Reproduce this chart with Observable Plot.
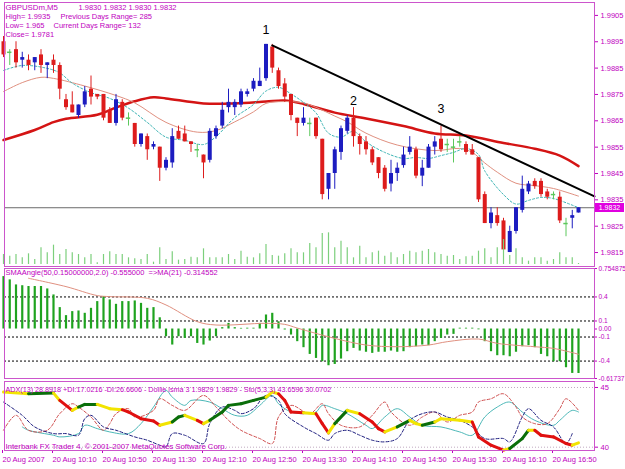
<!DOCTYPE html>
<html><head><meta charset="utf-8">
<script src="https://cdn.jsdelivr.net/npm/d3@7"></script>
<script src="https://cdn.jsdelivr.net/npm/@observablehq/plot@0.6"></script>
<style>
body{margin:0;background:#fff;}
#chart{position:relative;width:625px;height:469px;overflow:hidden;background:#fff;}
#chart svg{position:absolute;left:0;overflow:visible;}
#pricebox{position:absolute;left:595px;width:29px;height:9px;background:#e000e0;color:#fff;font:7px 'Liberation Sans',Arial,sans-serif;line-height:9px;text-align:center;}
</style></head><body><div id="chart"></div>
<script>
// ---------- DATA ----------
const candleOpen  = [1.9895,1.9891,1.9892,1.9888,1.9888,1.9887,1.9890,1.9886,1.9888,1.9886,1.9873,1.9871,1.9867,1.9871,1.9877,1.9875,1.9875,1.9869,1.9864,1.9872,1.9866,1.9864,1.9856,1.9859,1.9855,1.9855,1.9847,1.9849,1.9861,1.9860,1.9857,1.9854,1.9852,1.9850,1.9859,1.9863,1.9870,1.9870,1.9871,1.9875,1.9877,1.9878,1.9881,1.9893,1.9884,1.9879,1.9875,1.9866,1.9864,1.9864,1.9866,1.9858,1.9839,1.9845,1.9853,1.9861,1.9866,1.9859,1.9857,1.9854,1.9851,1.9847,1.9841,1.9845,1.9848,1.9853,1.9854,1.9844,1.9847,1.9855,1.9858,1.9856,1.9855,1.9857,1.9856,1.9854,1.9851,1.9837,1.9826,1.9829,1.9827,1.9815,1.9823,1.9831,1.9838,1.9842,1.9842,1.9838,1.9837,1.9836,1.9826,1.9828,1.9830];
const candleHigh  = [1.9897,1.9892,1.9895,1.9891,1.9890,1.9889,1.9892,1.9887,1.9890,1.9887,1.9875,1.9876,1.9871,1.9878,1.9882,1.9875,1.9875,1.9870,1.9875,1.9873,1.9868,1.9864,1.9860,1.9860,1.9857,1.9855,1.9851,1.9862,1.9863,1.9863,1.9857,1.9856,1.9852,1.9862,1.9863,1.9872,1.9877,1.9873,1.9877,1.9877,1.9881,1.9885,1.9894,1.9894,1.9885,1.9881,1.9875,1.9866,1.9870,1.9866,1.9866,1.9858,1.9845,1.9855,1.9863,1.9867,1.9870,1.9860,1.9859,1.9855,1.9851,1.9848,1.9850,1.9849,1.9855,1.9859,1.9855,1.9850,1.9856,1.9859,1.9863,1.9858,1.9858,1.9859,1.9857,1.9856,1.9851,1.9838,1.9832,1.9832,1.9828,1.9825,1.9832,1.9844,1.9842,1.9843,1.9843,1.9839,1.9838,1.9838,1.9828,1.9831,1.9832];
const candleLow   = [1.9889,1.9886,1.9885,1.9885,1.9884,1.9884,1.9883,1.9881,1.9883,1.9873,1.9869,1.9868,1.9866,1.9870,1.9871,1.9873,1.9865,1.9864,1.9863,1.9865,1.9863,1.9855,1.9855,1.9850,1.9854,1.9842,1.9846,1.9847,1.9858,1.9857,1.9853,1.9851,1.9843,1.9849,1.9858,1.9862,1.9868,1.9867,1.9870,1.9874,1.9876,1.9878,1.9880,1.9883,1.9877,1.9872,1.9865,1.9859,1.9863,1.9859,1.9858,1.9835,1.9835,1.9839,1.9850,1.9860,1.9855,1.9852,1.9852,1.9848,1.9843,1.9838,1.9838,1.9842,1.9847,1.9852,1.9843,1.9840,1.9847,1.9852,1.9853,1.9853,1.9849,1.9855,1.9852,1.9852,1.9834,1.9826,1.9824,1.9825,1.9816,1.9815,1.9822,1.9830,1.9837,1.9839,1.9836,1.9835,1.9835,1.9826,1.9821,1.9824,1.9830];
const candleClose = [1.9890,1.9891,1.9887,1.9889,1.9886,1.9889,1.9886,1.9887,1.9886,1.9877,1.9870,1.9868,1.9871,1.9876,1.9874,1.9874,1.9866,1.9864,1.9873,1.9866,1.9866,1.9856,1.9860,1.9854,1.9856,1.9847,1.9850,1.9859,1.9858,1.9857,1.9856,1.9854,1.9849,1.9861,1.9862,1.9869,1.9872,1.9872,1.9876,1.9876,1.9880,1.9880,1.9894,1.9885,1.9878,1.9874,1.9867,1.9864,1.9866,1.9864,1.9859,1.9837,1.9845,1.9854,1.9862,1.9866,1.9859,1.9856,1.9854,1.9849,1.9845,1.9839,1.9845,1.9847,1.9852,1.9855,1.9844,1.9847,1.9855,1.9857,1.9854,1.9856,1.9855,1.9857,1.9853,1.9852,1.9835,1.9826,1.9830,1.9826,1.9816,1.9823,1.9832,1.9839,1.9841,1.9840,1.9837,1.9836,1.9837,1.9827,1.9826,1.9829,1.9832];
const volume = [30,25,30,20,32,15,50,35,58,30,45,35,30,20,30,5,30,38,30,30,20,17,15,30,7,50,15,38,13,15,22,20,47,20,20,20,30,15,40,22,20,32,60,27,25,32,47,35,35,63,50,93,95,50,70,50,20,55,20,35,40,25,35,20,30,40,35,40,45,35,30,25,27,15,23,25,40,47,20,50,75,27,47,20,10,20,20,10,15,35,20,20,3];

const maSlowBar = [0,5,8,10,15,18,21,24,26,32,37,42,45,48,53,58,64,69,74,80,85,89,92];
const maSlowVal = [1.98577,1.98615,1.98645,1.98658,1.98673,1.98700,1.98724,1.98739,1.98735,1.98716,1.98716,1.98723,1.98727,1.98714,1.98681,1.98659,1.98630,1.98602,1.98594,1.98566,1.98544,1.98518,1.98478];
const maMidBar = [0,3,6,8,13,18,21,26,31,34,37,40,42,45,48,50,53,55,58,63,69,73,75,77,79,82,85,88,92];
const maMidVal = [1.98761,1.98795,1.98815,1.98811,1.98782,1.98746,1.98718,1.98644,1.98607,1.98613,1.98646,1.98684,1.98716,1.98723,1.98718,1.98701,1.98668,1.98646,1.98603,1.98558,1.98537,1.98545,1.98530,1.98490,1.98455,1.98413,1.98404,1.98393,1.98364];
const maFastBar = [0,3,7,9,11,14,17,20,23,26,29,32,34,37,40,42,44,46,48,50,52,54,56,58,61,64,66,68,70,72,74,76,77,80,82,84,86,88,92];
const maFastVal = [1.98841,1.98860,1.98849,1.98832,1.98793,1.98757,1.98735,1.98698,1.98644,1.98588,1.98576,1.98560,1.98590,1.98662,1.98712,1.98763,1.98777,1.98752,1.98720,1.98680,1.98603,1.98588,1.98610,1.98570,1.98530,1.98507,1.98511,1.98507,1.98518,1.98530,1.98545,1.98522,1.98460,1.98370,1.98334,1.98348,1.98359,1.98355,1.98320];

const trendBar = [43, 94.56];
const trendVal = [1.98936, 1.98363];
const waveText = ["1","2","3"];
const waveBar  = [42, 56, 70];
const waveVal  = [1.98993, 1.98727, 1.98693];

const priceTicks = [1.9815,1.9825,1.9835,1.9845,1.9855,1.9865,1.9875,1.9885,1.9895,1.9905];

const smaAngle = [0.654,0.613,0.55,0.54,0.53,0.53,0.53,0.50,0.425,0.267,0.167,0.217,0.225,0.196,0.258,0.342,0.404,0.363,0.308,0.342,0.342,0.35,0.32,0.258,0.267,0.14,-0.096,-0.2,-0.096,-0.117,-0.096,-0.18,-0.2,-0.15,-0.096,0.017,0.07,0.017,0.008,0.01,0.01,0.07,0.175,0.196,0.09,-0.012,-0.075,-0.158,-0.233,-0.317,-0.367,-0.408,-0.458,-0.442,-0.375,-0.283,-0.242,-0.275,-0.29,-0.304,-0.29,-0.29,-0.275,-0.29,-0.283,-0.233,-0.221,-0.2,-0.208,-0.158,-0.117,-0.075,-0.067,0.01,0.01,0.01,-0.01,-0.158,-0.283,-0.333,-0.333,-0.346,-0.29,-0.221,-0.208,-0.233,-0.317,-0.346,-0.408,-0.408,-0.483,-0.554,-0.555];
const smaMaBar = [4,10,15,17,23,26,31,34,42,45,47,53,58,63,68,71,76,79,85,88,92];
const smaMaVal = [0.633,0.529,0.417,0.404,0.383,0.30,0.092,0.05,0.071,0.058,0.012,-0.117,-0.2,-0.221,-0.2,-0.158,-0.125,-0.179,-0.221,-0.242,-0.3146];
const smaLevels = [0.4, 0.1, -0.1, -0.4];
const smaTicks = [0.754875, 0.4, 0.1, 0, -0.1, -0.4, -0.61737];
const smaTickLabels = ["0.754875","0.4","0.1","0.00","-0.1","-0.4","-0.61737"];

const adxBar = [0,4,8,9,11,12,13,15,17,19,20,22,24,25,27,28,29,31,32,33,35,36,38,40,42,43,44,45,46,48,50,51,52,53,55,57,59,60,61,63,65,66,67,69,70,73,75,76,78,80,81,83,84,85,86,88,90,91,92];
const adxVal = [88,85.5,86.5,75.5,60.5,65.5,69.5,69.5,63,61.5,58,48,44.5,38,43,50.5,53,45.5,40.5,45.5,58,68,70.5,75.5,80.5,88,85.5,75.5,58,57,55.5,40.5,26.5,40.5,60.5,55.5,43,33,28,35.5,45.5,40.5,38,43,48,45.5,43,20.5,8,0.5,3,18,30.5,30.5,23,20.5,10.5,8,11.5];
const adxTrend = ["f","u","f","d","f","u","u","f","f","d","d","d","d","f","u","u","f","d","f","u","u","u","u","u","f","f","d","d","d","f","d","d","f","u","f","d","d","d","f","u","f","f","u","f","f","f","d","d","d","f","u","u","f","d","d","d","d","f","f"];
const plusBar = [3,4,8,9,12,13,15,17,20,22,24,26,27,29,30,33,35,37,39,41,43,44,46,48,50,51,53,55,58,59,61,63,65,67,70,73,75,77,79,81,83,85,88,89,91,92];
const plusVal = [35.5,30.5,23,20.5,25.5,38,33,28,25.5,40.5,65.5,90.5,80.5,68,75.5,73,63,53,53,68,83,70.5,58,55.5,58,68,63,55.5,38,33,50.5,63,50.5,38,35.5,28,23,50.5,65.5,73,58,45.5,38,45.5,60.5,58];
const minusBar = [0,2,4,7,9,11,12,14,16,17,18,20,21,24,25,27,29,32,34,36,38,41,43,44,46,49,51,52,54,57,59,61,62,65,67,69,71,73,75,76,78,80,82,83,85,87,89,90,92];
const minusVal = [30.5,53,30.5,30.5,55.5,70.5,65.5,50.5,30.5,40.5,55.5,63,50.5,60.5,78,68,60.5,83,65.5,45.5,30.5,18,10.5,50.5,68,55.5,70.5,55.5,38,35.5,53,73,58,38,50.5,58,43,53,58,73,78,85.5,65.5,50.5,40.5,40.5,63,78,60.5];
const stoBar = [0,3,5,8,10,12,13,14,16,18,21,23,25,26,27,29,32,33,35,37,38,40,42,44,45,48,50,52,53,55,57,59,61,63,65,67,69,71,73,75,77,80,81,83,84,86,88,90,91];
const stoVal = [73,53,35.5,25.5,25.5,23,48,53,35.5,30.5,20.5,15.5,8,5.5,25.5,23,10.5,40.5,65.5,60.5,55.5,63,83,75.5,55.5,35.5,25.5,15.5,25.5,30.5,23,15.5,13,18,45.5,55.5,58,50.5,45.5,35.5,18,18,13,50.5,63,45.5,35.5,10.5,25.5];
const adxLevels = [95, 5];
const adxTickLabels = ["45", "40"];

const timeTickBars = [0,8,16,24,32,40,48,56,64,72,80,88];
const timeLabels = ["20 Aug 2007","20 Aug 10:10","20 Aug 10:50","20 Aug 11:30","20 Aug 12:10","20 Aug 12:50","20 Aug 13:30","20 Aug 14:10","20 Aug 14:50","20 Aug 15:30","20 Aug 16:10","20 Aug 16:50"];

const headSymbol = "GBPUSDm,M5";
const headOHLC = "1.9830 1.9832 1.9830 1.9832";
const headHigh = "High= 1.9935", headPrev = "Previous Days Range= 285";
const headLow = "Low= 1.965", headCur = "Current Days Range= 132";
const headClose = "Close= 1.9781";
const smaTitle = "SMAAngle(50,0.15000000,2.0) -0.555000  =>MA(21) -0.314552";
const adxTitle = "ADX(13) 28.8918 +DI:17.0216 -DI:26.6606 - Dollie lsma 3 1.9829 1.9829 - Sto(5,3,3) 43.6596 30.0702";
const copyright = "Interbank FX Trader 4, \u00a9 2001-2007 MetaQuotes Software Corp.";

// ---------- BUILD ----------
const MAG = "#c000c0", FRAME = "#cc55cc";
const FONT = "'Liberation Sans', Arial, sans-serif";
const BLUE = "#1c1cc0", RED = "#dd1c1c", GREEN = "#5cc85c";
const W = 625, ML = 4, MR = 31;
const xDomain = [0.16, 94.56];
const nb = s => s.replace(/ /g, "\u00a0");
const chart = document.getElementById("chart");
function place(svg, top) { svg.style.top = top + "px"; chart.appendChild(svg); return svg; }
const baseStyle = {fontFamily: FONT, fontSize: "7.5px", color: MAG, background: "transparent", overflow: "visible"};
const legendText = (txt, dx, dy, extra = {}) => Plot.text([txt], {frameAnchor: "top-left", textAnchor: "start", lineAnchor: "middle", dx, dy, fill: MAG, text: d => nb(d), ...extra});

const candles = candleOpen.map((o, i) => ({i, open: o, high: candleHigh[i], low: candleLow[i], close: candleClose[i]}));
const cColor = d => d.close > d.open ? BLUE : d.close < d.open ? RED : GREEN;
const pts = (bars, vals) => bars.map((b, k) => ({i: b, v: vals[k]}));
const lastClose = candleClose[candleClose.length - 1];

const main = Plot.plot({
  width: W, height: 267, marginLeft: ML, marginRight: MR, marginTop: 2, marginBottom: 1,
  style: baseStyle,
  x: {domain: xDomain, axis: null},
  y: {domain: [1.98097, 1.99099]},
  marks: [
    Plot.ruleY([lastClose], {stroke: "#6a6a6a"}),
    Plot.line(pts(maSlowBar, maSlowVal), {x: "i", y: "v", stroke: "#d41414", strokeWidth: 2.5, curve: "catmull-rom"}),
    Plot.line(pts(maMidBar, maMidVal), {x: "i", y: "v", stroke: "#e09080", strokeWidth: 1, curve: "catmull-rom"}),
    Plot.line(pts(maFastBar, maFastVal), {x: "i", y: "v", stroke: "#3cb4b4", strokeWidth: 1, strokeDasharray: "2,2", curve: "catmull-rom"}),
    Plot.ruleX(candles, {x: "i", y1: "low", y2: "high", stroke: cColor, strokeWidth: 1}),
    Plot.ruleX(candles.filter(d => d.open !== d.close), {x: "i", y1: "open", y2: "close", stroke: cColor, strokeWidth: 4}),
    Plot.ruleY(candles.filter(d => d.open === d.close), {y: "close", x1: d => d.i - 0.35, x2: d => d.i + 0.35, stroke: GREEN, strokeWidth: 1.5}),
    Plot.line(pts(trendBar, trendVal), {x: "i", y: "v", stroke: "#000", strokeWidth: 2}),
    Plot.text(waveText, {x: (d, k) => waveBar[k], y: (d, k) => waveVal[k], text: d => d, fill: "#000", fontSize: 12.5, fontFamily: FONT}),
    Plot.axisY({anchor: "right", ticks: priceTicks, tickFormat: d3.format(".4f"), tickSize: 3, tickPadding: 3, label: null, fill: MAG, stroke: MAG}),
    legendText(headSymbol, 1, 5, {fontSize: 7.8, letterSpacing: "0.6px"}),
    legendText(headOHLC, 74, 5),
    legendText(headHigh, 1, 14),
    legendText(headPrev, 56, 14),
    legendText(headLow, 1, 23),
    legendText(headCur, 49, 23),
    legendText(headClose, 1, 32),
    Plot.frame({stroke: FRAME})
  ]
});
main.style.background = "#fff";
place(main, 0);

const vol = Plot.plot({
  width: W, height: 60, marginLeft: ML, marginRight: MR, marginTop: 0, marginBottom: 0,
  style: baseStyle,
  x: {domain: xDomain, axis: null},
  y: {domain: [0, 180], axis: null},
  marks: [Plot.ruleX(volume.map((v, i) => ({i, v})), {x: "i", y1: 0, y2: "v", stroke: "#7ccf7c", strokeWidth: 1.2})]
});
place(vol, 204);

const pb = document.createElement("div");
pb.id = "pricebox";
pb.textContent = lastClose.toFixed(4);
pb.style.top = (main.scale("y").apply(lastClose) - 4) + "px";
chart.appendChild(pb);

const sma = Plot.plot({
  width: W, height: 112, marginLeft: ML, marginRight: MR, marginTop: 1, marginBottom: 1,
  style: baseStyle,
  x: {domain: xDomain, axis: null},
  y: {domain: [-0.61737, 0.754875]},
  marks: [
    Plot.ruleY(smaLevels, {stroke: "#000", strokeDasharray: "2,2"}),
    Plot.ruleX(smaAngle.map((v, i) => ({i, v})), {x: "i", y1: 0, y2: "v", stroke: "#1fa31f", strokeWidth: 2.2}),
    Plot.line(pts(smaMaBar, smaMaVal), {x: "i", y: "v", stroke: "#e09080", strokeWidth: 1, curve: "catmull-rom"}),
    Plot.axisY({anchor: "right", ticks: smaTicks, tickFormat: d => smaTickLabels[smaTicks.indexOf(d)], tickSize: 2, tickPadding: 2, label: null, fill: MAG, stroke: MAG, fontSize: 6.6}),
    legendText(smaTitle, 1, 4),
    Plot.frame({stroke: FRAME})
  ]
});
place(sma, 267);

const trendColor = {u: "#0a6e0a", d: "#e01010", f: "#f2e400"};
const adxPts = adxBar.map((b, k) => ({i: b, v: adxVal[k], t: adxTrend[k]}));
const adxSegs = d3.pairs(adxPts).map(([a, b]) => ({x1: a.i, y1: a.v, x2: b.i, y2: b.v, t: a.t}));

const adx = Plot.plot({
  width: W, height: 89, marginLeft: ML, marginRight: MR, marginTop: 1, marginBottom: 19,
  style: baseStyle,
  x: {domain: xDomain},
  y: {domain: [0, 104]},
  marks: [
    Plot.ruleY(adxLevels, {stroke: "#c0a8c0", strokeDasharray: "1,2"}),
    Plot.line(pts(plusBar, plusVal), {x: "i", y: "v", stroke: "#4cb8b8", strokeWidth: 1, curve: "catmull-rom"}),
    Plot.line(pts(minusBar, minusVal), {x: "i", y: "v", stroke: "#d05050", strokeWidth: 1, strokeDasharray: "3,2", curve: "catmull-rom"}),
    Plot.line(pts(stoBar, stoVal), {x: "i", y: "v", stroke: "#202080", strokeWidth: 1, strokeDasharray: "3,2", curve: "catmull-rom"}),
    Plot.link(adxSegs, {x1: "x1", y1: "y1", x2: "x2", y2: "y2", stroke: d => trendColor[d.t], strokeWidth: 3, strokeLinecap: "round"}),
    Plot.axisY({anchor: "right", ticks: adxLevels, tickFormat: d => adxTickLabels[adxLevels.indexOf(d)], tickSize: 3, tickPadding: 3, label: null, fill: MAG, stroke: MAG}),
    Plot.axisX({anchor: "bottom", ticks: timeTickBars, tickFormat: d => timeLabels[timeTickBars.indexOf(d)], textAnchor: "start", dx: -1, tickSize: 3, tickPadding: 3, label: null, fill: MAG, stroke: MAG}),
    legendText(adxTitle, 1, 8, {fontSize: 7.2}),
    legendText(copyright, 1, 65, {fontSize: 7.7}),
    Plot.frame({stroke: FRAME})
  ]
});
place(adx, 380);
</script></body></html>
